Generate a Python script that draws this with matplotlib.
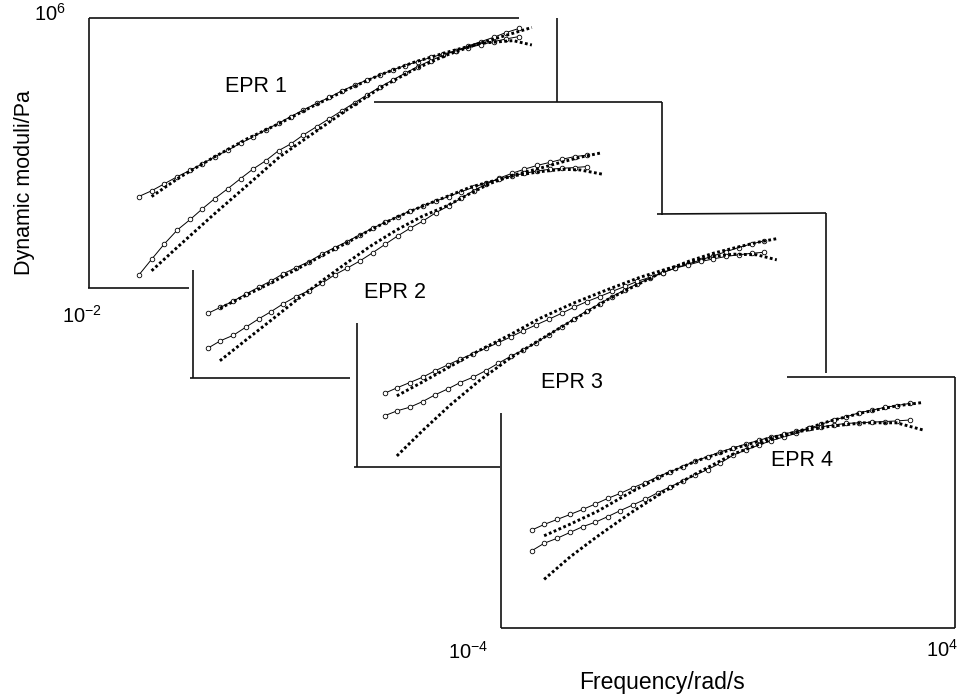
import matplotlib
matplotlib.use("Agg")
import matplotlib.pyplot as plt
import numpy as np

plt.rcParams["font.family"] = ["Liberation Sans", "DejaVu Sans"]
plt.rcParams["mathtext.fontset"] = "custom"
plt.rcParams["mathtext.rm"] = "Liberation Sans"

# values are log10(frequency / rad s^-1) and log10(modulus / Pa)
# measured data (dotted), G' and G''
epr1_w = [-2.93, -2.45, -1.88, -1.31, -0.74, -0.17, 0.40, 0.97, 1.54, 2.11, 2.68, 3.25, 3.57]
epr1_gp = [-1.49, -0.73, 0.16, 1.02, 1.89, 2.58, 3.27, 3.92, 4.46, 4.90, 5.25, 5.55, 5.72]
epr1_gpp = [0.71, 1.28, 1.86, 2.41, 2.88, 3.39, 3.87, 4.31, 4.68, 4.98, 5.25, 5.33, 5.20]

epr2_w = [-3.54, -3.08, -2.66, -2.23, -1.80, -1.37, -0.95, -0.52, -0.09, 0.34, 0.74, 1.08,
          1.48, 1.93, 2.33, 2.62, 2.99]
epr2_gp = [-1.50, -0.88, -0.32, 0.26, 0.81, 1.34, 1.84, 2.29, 2.68, 2.99, 3.35, 3.64,
           3.88, 4.08, 4.27, 4.40, 4.53]
epr2_gpp = [0.02, 0.41, 0.76, 1.15, 1.54, 1.92, 2.31, 2.66, 2.97, 3.26, 3.53, 3.69,
            3.86, 3.98, 4.05, 4.03, 3.91]

epr3_w = [-3.32, -2.87, -2.41, -1.90, -1.39, -0.88, -0.31, 0.26, 0.83, 1.28, 1.68, 2.08,
          2.42, 2.82, 3.16]
epr3_gp = [-1.65, -0.83, -0.04, 0.75, 1.44, 2.02, 2.65, 3.28, 3.81, 4.23, 4.52, 4.76,
           4.92, 5.10, 5.22]
epr3_gpp = [0.25, 0.70, 1.18, 1.70, 2.18, 2.70, 3.18, 3.60, 4.00, 4.26, 4.47, 4.66,
            4.73, 4.71, 4.55]

epr4_w = [-3.24, -2.78, -2.31, -1.73, -1.14, -0.55, 0.09, 0.74, 1.21, 1.80, 2.39, 2.97, 3.44]
epr4_gp = [-0.45, 0.27, 0.91, 1.65, 2.34, 2.93, 3.54, 3.99, 4.25, 4.60, 4.87, 5.08, 5.19]
epr4_gpp = [0.94, 1.31, 1.71, 2.31, 2.87, 3.33, 3.71, 4.06, 4.25, 4.43, 4.54, 4.54, 4.31]

# model curves (open circles)
epr1_mw = [-3.15, -2.93, -2.71, -2.49, -2.27, -2.06, -1.85, -1.63, -1.41, -1.20, -0.98,
           -0.76, -0.55, -0.34, -0.11, 0.11, 0.32, 0.54, 0.75, 0.97, 1.19, 1.40, 1.62,
           1.84, 2.05, 2.27, 2.48, 2.70, 2.92, 3.13, 3.35]
epr1_mgp = [-1.62, -1.15, -0.69, -0.28, 0.03, 0.35, 0.65, 0.94, 1.24, 1.52, 1.77, 2.07,
            2.27, 2.53, 2.78, 3.02, 3.25, 3.49, 3.72, 3.95, 4.16, 4.36, 4.56, 4.74, 4.89,
            5.03, 5.17, 5.30, 5.43, 5.57, 5.69]
epr1_mgpp = [0.71, 0.88, 1.09, 1.30, 1.49, 1.68, 1.89, 2.08, 2.29, 2.47, 2.69, 2.88, 3.08,
             3.27, 3.47, 3.65, 3.84, 4.01, 4.16, 4.31, 4.46, 4.59, 4.71, 4.83, 4.93, 5.03,
             5.12, 5.21, 5.30, 5.38, 5.45]

epr2_mw = [-3.75, -3.53, -3.31, -3.10, -2.88, -2.67, -2.46, -2.24, -2.02, -1.80, -1.58,
           -1.37, -1.15, -0.93, -0.72, -0.50, -0.29, -0.06, 0.15, 0.37, 0.58, 0.80, 1.01,
           1.23, 1.45, 1.66, 1.88, 2.10, 2.31, 2.53, 2.74]
epr2_mgp = [-1.14, -0.92, -0.76, -0.53, -0.29, -0.08, 0.15, 0.36, 0.53, 0.74, 0.99, 1.18,
            1.39, 1.63, 1.87, 2.12, 2.34, 2.56, 2.79, 2.99, 3.21, 3.43, 3.62, 3.79, 3.93,
            4.05, 4.16, 4.25, 4.34, 4.42, 4.46]
epr2_mgpp = [-0.13, 0.05, 0.23, 0.43, 0.63, 0.81, 1.02, 1.20, 1.37, 1.59, 1.78, 1.95, 2.15,
             2.34, 2.51, 2.68, 2.84, 2.99, 3.13, 3.26, 3.40, 3.53, 3.66, 3.76, 3.86, 3.93,
             4.00, 4.05, 4.08, 4.10, 4.13]

epr3_mw = [-3.53, -3.31, -3.10, -2.88, -2.67, -2.45, -2.24, -2.02, -1.80, -1.59, -1.37,
           -1.16, -0.95, -0.73, -0.51, -0.30, -0.08, 0.14, 0.35, 0.57, 0.78, 1.00, 1.22,
           1.43, 1.65, 1.87, 2.08, 2.30, 2.51, 2.74, 2.95]
epr3_mgp = [-0.38, -0.22, -0.11, 0.07, 0.28, 0.47, 0.67, 0.84, 1.05, 1.28, 1.51, 1.70,
            1.93, 2.18, 2.44, 2.68, 2.94, 3.16, 3.39, 3.60, 3.79, 3.97, 4.15, 4.29, 4.42,
            4.55, 4.68, 4.81, 4.94, 5.06, 5.15]
epr3_mgpp = [0.33, 0.51, 0.67, 0.84, 1.04, 1.23, 1.41, 1.58, 1.76, 1.93, 2.12, 2.31, 2.49,
             2.67, 2.86, 3.05, 3.23, 3.39, 3.55, 3.71, 3.87, 4.00, 4.15, 4.29, 4.39, 4.50,
             4.58, 4.66, 4.71, 4.76, 4.79]

epr4_mw = [-3.46, -3.24, -3.01, -2.78, -2.56, -2.34, -2.12, -1.90, -1.68, -1.46, -1.24,
           -1.02, -0.80, -0.58, -0.36, -0.14, 0.09, 0.31, 0.54, 0.76, 0.98, 1.20, 1.42,
           1.64, 1.86, 2.08, 2.31, 2.53, 2.76, 2.97, 3.21]
epr4_mgp = [0.46, 0.70, 0.86, 1.05, 1.23, 1.37, 1.55, 1.74, 1.92, 2.10, 2.31, 2.50, 2.68,
            2.87, 3.05, 3.25, 3.51, 3.67, 3.83, 3.97, 4.09, 4.20, 4.36, 4.49, 4.63, 4.73,
            4.86, 4.94, 5.03, 5.09, 5.16]
epr4_mgpp = [1.12, 1.30, 1.46, 1.62, 1.78, 1.95, 2.13, 2.29, 2.47, 2.63, 2.82, 2.98, 3.14,
             3.32, 3.46, 3.61, 3.74, 3.86, 3.98, 4.09, 4.18, 4.27, 4.36, 4.41, 4.47, 4.52,
             4.54, 4.56, 4.58, 4.60, 4.63]

labels = ["EPR 1", "EPR 2", "EPR 3", "EPR 4"]

# panel boxes in pixels (left, right, top, bottom) and label positions
W, H = 962, 698
boxes = [(89, 557, 18, 288), (193, 661, 102, 378), (357, 826, 214, 467), (501, 955, 377, 628)]
label_xy = [(256, 87), (395, 292), (572, 383), (802, 460)]

panels = [
    (epr1_w, epr1_gp, epr1_gpp, epr1_mw, epr1_mgp, epr1_mgpp),
    (epr2_w, epr2_gp, epr2_gpp, epr2_mw, epr2_mgp, epr2_mgpp),
    (epr3_w, epr3_gp, epr3_gpp, epr3_mw, epr3_mgp, epr3_mgpp),
    (epr4_w, epr4_gp, epr4_gpp, epr4_mw, epr4_mgp, epr4_mgpp),
]

fig = plt.figure(figsize=(W / 100, H / 100), dpi=100)

# overlay in pixel coordinates for the hand-cut frames and labels
ov = fig.add_axes([0, 0, 1, 1])
ov.set_xlim(0, W)
ov.set_ylim(H, 0)
ov.set_axis_off()

frame_segments = [
    ((89, 18), (519, 18)), ((89, 18), (89, 288)), ((88, 288), (189, 288)), ((557, 18), (557, 102)),
    ((374, 102), (662, 102)), ((662, 102), (662, 215)), ((193, 270), (193, 378)), ((190, 378), (350, 378)),
    ((657, 214), (826, 213)), ((826, 213), (826, 373)), ((357, 323), (357, 467)), ((354, 467), (500, 467)),
    ((787, 377), (955, 377)), ((955, 377), (955, 628)), ((501, 628), (955, 628)), ((501, 413), (501, 628)),
]
for (x0, y0), (x1, y1) in frame_segments:
    ov.plot([x0, x1], [y0, y1], color="#111111", lw=1.2, solid_capstyle="butt")

dot_kw = dict(color="black", lw=2.1, linestyle=(0, (0.95, 0.85)), dash_capstyle="butt", zorder=3)
mod_kw = dict(color="black", lw=0.7, marker="o", ms=3.3, mfc="white", mec="black", mew=0.6,
              zorder=2)

for (l, r, t, b), data, lab, (lx, ly) in zip(boxes, panels, labels, label_xy):
    ax = fig.add_axes([l / W, 1 - b / H, (r - l) / W, (b - t) / H])
    ax.set_xscale("log")
    ax.set_yscale("log")
    ax.set_xlim(1e-4, 1e4)
    ax.set_ylim(1e-2, 1e6)
    ax.set_axis_off()
    ax.patch.set_alpha(0)
    w, gp, gpp, mw, mgp, mgpp = [10 ** np.asarray(v) for v in data]
    ax.plot(mw, mgp, **mod_kw)
    ax.plot(mw, mgpp, **mod_kw)
    ax.plot(w, gp, **dot_kw)
    ax.plot(w, gpp, **dot_kw)
    ov.text(lx, ly, lab, ha="center", va="center", fontsize=15.5)

ov.text(50, 14, r"$\mathregular{10^{6}}$", ha="center", va="center", fontsize=14.5)
ov.text(82, 316, r"$\mathregular{10^{-2}}$", ha="center", va="center", fontsize=14.5)
ov.text(468, 652, r"$\mathregular{10^{-4}}$", ha="center", va="center", fontsize=14.5)
ov.text(942, 650, r"$\mathregular{10^{4}}$", ha="center", va="center", fontsize=14.5)
ov.text(662, 683, "Frequency/rad/s", ha="center", va="center", fontsize=16.5)
ov.text(25, 183, "Dynamic moduli/Pa", ha="center", va="center", rotation=90, fontsize=15.5)

fig.savefig("out.png", dpi=100)
